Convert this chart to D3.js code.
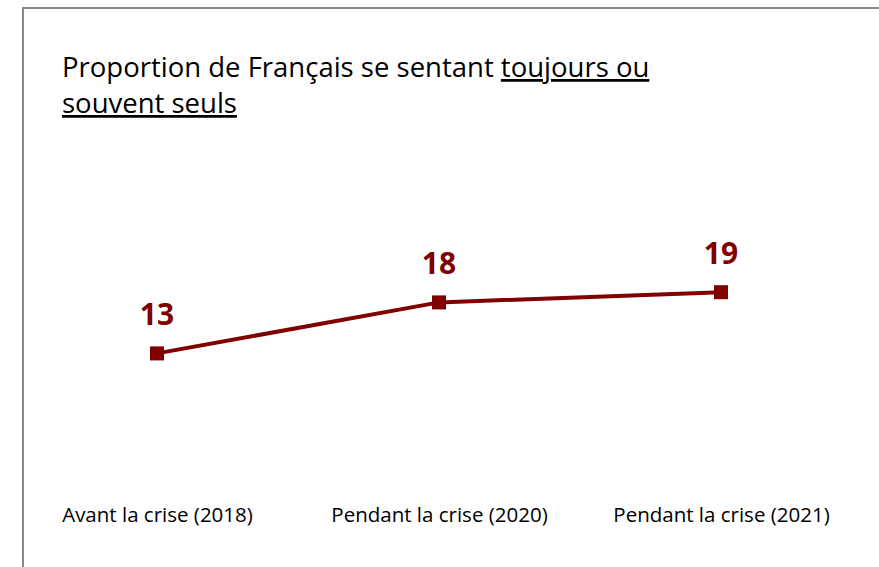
<!DOCTYPE html>
<html><head><meta charset="utf-8">
<script src="https://cdn.jsdelivr.net/npm/d3@7"></script>
<style>body{margin:0;background:#fff}</style>
</head><body>
<svg id="c" width="879" height="567"></svg>
<script>
const categories = ["Avant la crise (2018)", "Pendant la crise (2020)", "Pendant la crise (2021)"];
const values = [13, 18, 19];
const titleLine1Plain = "Proportion de Français se sentant ";
const titleLine1Under = "toujours ou";
const titleLine2Under = "souvent seuls";

const svg = d3.select("#c");
const color = "#800000";
const font = "'Open Sans', 'Noto Sans', sans-serif";

// frame
svg.append("path").attr("d", "M23,567 V8 H879").attr("fill", "none").attr("stroke", "#888").attr("stroke-width", 2);

const x = d3.scalePoint().domain(categories).range([157, 721]);
const y = d3.scaleLinear().domain([0, 30]).range([486, 180]);

// title
const t = svg.append("text").attr("x", 62).attr("y", 77).attr("font-family", font).attr("font-size", 27.5).attr("fill", "#000");
t.append("tspan").text(titleLine1Plain);
t.append("tspan").attr("text-decoration", "underline").text(titleLine1Under);
svg.append("text").attr("x", 62).attr("y", 113).attr("font-family", font).attr("font-size", 27.5).attr("fill", "#000")
  .attr("text-decoration", "underline").text(titleLine2Under);

// x axis labels
const axis = d3.axisBottom(x).tickSize(0).tickPadding(0);
const g = svg.append("g").attr("transform", "translate(0,522)").call(axis);
g.select(".domain").remove();
g.selectAll("text").attr("font-family", font).attr("font-size", 20.5).attr("fill", "#000").attr("dy", "0");

// line
const data = categories.map((c, i) => ({c, v: values[i]}));
svg.append("path").datum(data)
  .attr("d", d3.line().x(d => x(d.c)).y(d => y(d.v)))
  .attr("fill", "none").attr("stroke", color).attr("stroke-width", 4);

svg.selectAll("rect.m").data(data).join("rect").attr("class", "m")
  .attr("x", d => x(d.c) - 7).attr("y", d => y(d.v) - 7).attr("width", 14).attr("height", 14).attr("fill", color);

svg.selectAll("text.lbl").data(data).join("text").attr("class", "lbl")
  .attr("x", d => x(d.c)).attr("y", d => y(d.v) - 28).attr("text-anchor", "middle")
  .attr("font-family", font).attr("font-weight", "bold").attr("font-size", 30).attr("fill", color)
  .text(d => d.v);
</script>
</body></html>
